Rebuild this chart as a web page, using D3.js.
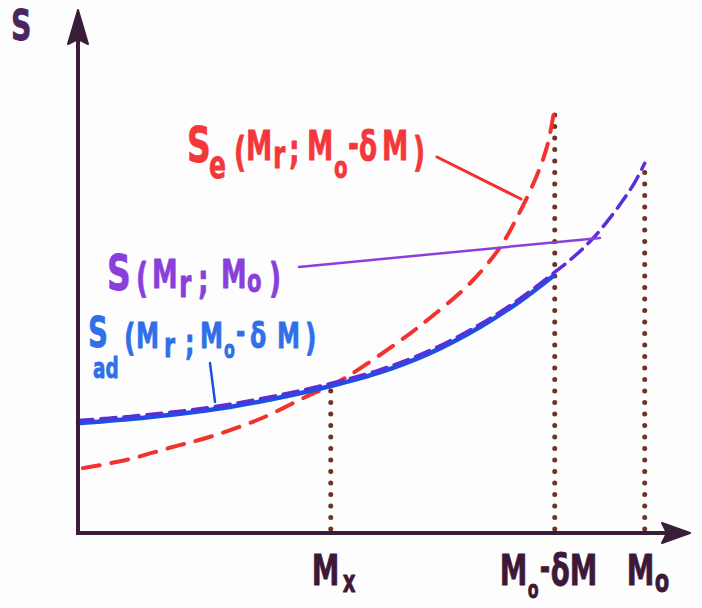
<!DOCTYPE html>
<html>
<head>
<meta charset="utf-8">
<script src="https://cdn.jsdelivr.net/npm/d3@7"></script>
<style>
  html, body { margin: 0; padding: 0; background: #fdfdfd; }
  svg { display: block; }
  text { font-family: "DejaVu Sans", sans-serif; font-weight: bold; stroke-linejoin: round; }
</style>
</head>
<body>
<svg id="chart" width="702" height="608"></svg>
<script>
// Mass coordinate M_r (x) and entropy S (y), arbitrary units 0..100
const sAdX = [0, 8.5, 16.7, 24.8, 33.0, 41.3, 49.3, 57.5, 65.7, 72.2, 77.6];
const sAdY = [21.0, 21.8, 22.8, 24.1, 25.9, 28.1, 30.7, 34.4, 39.4, 44.3, 49.1];

const sM0X = [0, 8.5, 16.7, 24.8, 33.0, 41.3, 49.3, 57.5, 65.7, 72.2, 77.6, 81.2, 84.2, 86.9, 89.1, 91.0, 92.6];
const sM0Y = [21.5, 22.3, 23.3, 24.6, 26.4, 28.6, 31.2, 34.9, 39.9, 44.8, 49.6, 53.0, 56.4, 60.2, 63.7, 67.1, 70.7];

const sEX = [0.8, 8.0, 15.0, 21.6, 29.7, 37.9, 41.3, 44.4, 52.1, 57.5, 64.1, 69.0, 72.2, 75.2, 76.8, 77.9];
const sEY = [12.4, 14.0, 16.3, 18.4, 21.8, 26.4, 28.1, 30.2, 36.3, 41.1, 47.8, 54.7, 61.4, 69.0, 74.6, 81.5];

// Marked masses on the x axis and the height their guide lines reach
const tickX = [41.3, 77.9, 92.6];
const tickTop = [28.6, 81.8, 70.7];

const svg = d3.select("#chart");
const x = d3.scaleLinear().domain([0, 100]).range([78, 690]);
const y = d3.scaleLinear().domain([0, 100]).range([533, 10]);

const axisColor = "#3a1d38";
const labelColor = "#3d1838";

// vertical dotted guide lines
tickX.forEach((v, i) => {
  svg.append("line")
    .attr("x1", x(v)).attr("x2", x(v))
    .attr("y1", y(0) - 4).attr("y2", y(tickTop[i]))
    .attr("stroke", "#6e3322").attr("stroke-width", 5)
    .attr("stroke-linecap", "round")
    .attr("stroke-dasharray", "0 11.5");
});

// curves
const line = d3.line().curve(d3.curveCatmullRom.alpha(0.5));
const pts = (xs, ys) => xs.map((v, i) => [x(v), y(ys[i])]);

svg.append("path").attr("d", line(pts(sEX, sEY)))
  .attr("fill", "none").attr("stroke", "#f2322d").attr("stroke-width", 4)
  .attr("stroke-linecap", "round").attr("stroke-dasharray", "17 12");

svg.append("path").attr("d", line(pts(sAdX, sAdY)))
  .attr("fill", "none").attr("stroke", "#1d4fe6").attr("stroke-width", 4.5)
  .attr("stroke-linecap", "round");

svg.append("path").attr("d", line(pts(sM0X, sM0Y)))
  .attr("fill", "none").attr("stroke", "#5a2fd6").attr("stroke-width", 3.5)
  .attr("stroke-linecap", "round").attr("stroke-dasharray", "15 8");

// axes
const xAxis = d3.axisBottom(x).tickValues(tickX).tickSize(0).tickSizeOuter(0).tickFormat("");
const gx = svg.append("g").attr("transform", `translate(0,${y(0)})`).call(xAxis);
gx.select(".domain").attr("stroke", axisColor).attr("stroke-width", 4).attr("d", `M${x(0)},0H${x(100) - 20}`);

const yAxis = d3.axisLeft(y).tickValues([]).tickSize(0).tickSizeOuter(0);
const gy = svg.append("g").attr("transform", `translate(${x(0)},0)`).call(yAxis);
gy.select(".domain").attr("stroke", axisColor).attr("stroke-width", 4).attr("d", `M0,${y(0) + 2}V${y(100) + 25}`);

// arrow heads
svg.append("path")
  .attr("d", `M${x(0)},${y(100)} L${x(0) + 10},${y(100) + 34} L${x(0)},${y(100) + 29} L${x(0) - 10},${y(100) + 34} Z`)
  .attr("fill", axisColor).attr("stroke", axisColor).attr("stroke-width", 2).attr("stroke-linejoin", "round");
svg.append("path")
  .attr("d", `M${x(100)},${y(0)} L${x(100) - 28},${y(0) - 10} L${x(100) - 23},${y(0)} L${x(100) - 28},${y(0) + 10} Z`)
  .attr("fill", axisColor).attr("stroke", axisColor).attr("stroke-width", 2).attr("stroke-linejoin", "round");

// Hand-lettered label: one text element, glyph groups placed individually,
// squeezed horizontally by SX. parts = [string, left x, baseline y, font size]
const SX = 0.66;
function label(parts, color) {
  const t = svg.append("text")
    .attr("transform", `scale(${SX},1)`)
    .attr("fill", color).attr("stroke", color).attr("stroke-width", 0.8);
  parts.forEach(([s, px, py, fs]) => {
    t.append("tspan").attr("x", px / SX).attr("y", py).attr("font-size", fs).text(s);
  });
  return t;
}

// axis name
label([["S", 11, 40, 43]], "#4a2562");

// tick labels under the x axis, positioned from the scale
const t0 = x(tickX[0]), t1 = x(tickX[1]), t2 = x(tickX[2]);
label([["M", t0 - 19, 585, 42], ["x", t0 + 12, 592, 30]], labelColor);
label([["M", t1 - 55, 585, 42], ["o", t1 - 27, 598, 24], ["-", t1 - 15, 580, 38],
       ["δ", t1 - 4, 585, 42], ["M", t1 + 15, 585, 42]], labelColor);
label([["M", t2 - 18, 585, 42], ["o", t2 + 10, 592, 32]], labelColor);

// curve labels
const red = "#f2383a";
label([["S", 187, 162, 50], ["e", 209, 178, 38], ["(", 234, 166, 40], ["M", 246, 160, 40],
       ["r", 273, 168, 38], [";", 289, 163, 40], ["M", 307, 160, 40], ["o", 334, 178, 30],
       ["-", 348, 158, 40], ["δ", 359, 160, 40], ["M", 382, 160, 40], [")", 413, 166, 40]], red);
svg.append("line").attr("x1", 437).attr("y1", 157).attr("x2", 521).attr("y2", 199)
  .attr("stroke", "#f2322d").attr("stroke-width", 3).attr("stroke-linecap", "round");

const purple = "#8a3fdc";
label([["S", 107, 290, 50], ["(", 136, 292, 40], ["M", 152, 288, 39], ["r", 179, 297, 38],
       [";", 198, 293, 40], ["M", 221, 288, 39], ["o", 247, 292, 32], [")", 269, 292, 40]], purple);
svg.append("line").attr("x1", 299).attr("y1", 267).attr("x2", 600).attr("y2", 238)
  .attr("stroke", purple).attr("stroke-width", 2.5).attr("stroke-linecap", "round");

const blue = "#2f6fe8";
label([["S", 88, 347, 42], ["(", 124, 350, 38], ["M", 136, 348, 35], ["r", 164, 357, 34],
       [";", 185, 355, 36], ["M", 200, 348, 35], ["o", 224, 358, 24], ["-", 236, 343, 34],
       ["δ", 250, 348, 36], ["M", 277, 348, 35], [")", 305, 350, 38],
       ["ad", 93, 378, 28]], blue);
svg.append("line").attr("x1", 210).attr("y1", 363).attr("x2", 215).attr("y2", 402)
  .attr("stroke", "#1d4fe6").attr("stroke-width", 2.5).attr("stroke-linecap", "round");
</script>
</body>
</html>
